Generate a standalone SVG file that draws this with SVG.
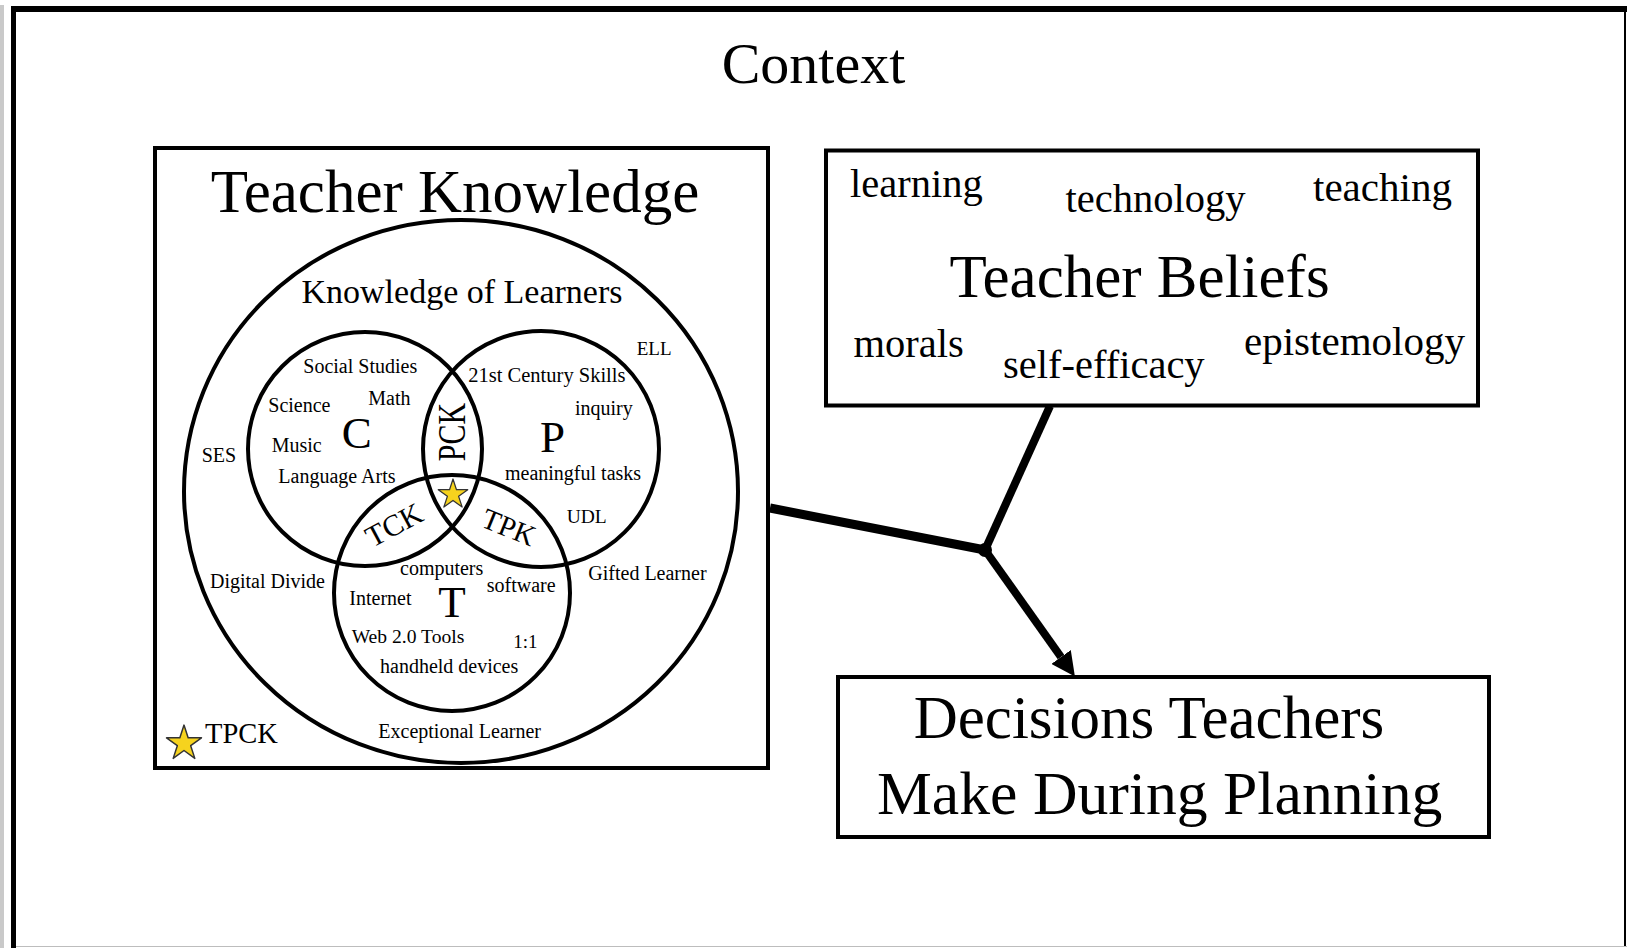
<svg xmlns="http://www.w3.org/2000/svg" xmlns:xlink="http://www.w3.org/1999/xlink" width="1627" height="948" viewBox="0 0 1627 948">
<style>
  text { font-family: "Liberation Serif", "Times New Roman", serif; fill: #000; }
  .box { fill: #fff; stroke: #000; stroke-width: 4; }
  .ring { fill: none; stroke: #000; stroke-width: 4; }
  .sm { font-size: 20px; }
  .big { font-size: 45px; }
  .bw { font-size: 40.5px; }
  .hd { font-size: 61px; }
  .conn { stroke: #000; fill: none; stroke-linecap: butt; }
  .star { fill: #f6d31e; stroke: #333; stroke-width: 1.6; stroke-linejoin: round; }
</style>
<defs>
  <path id="star" d="M0,-20 L4.49,-6.18 L19.02,-6.18 L7.26,2.36 L11.76,16.18 L0,7.64 L-11.76,16.18 L-7.26,2.36 L-19.02,-6.18 L-4.49,-6.18 Z"/>
  <marker id="arrow" markerUnits="userSpaceOnUse" markerWidth="24" markerHeight="24" refX="0" refY="12" orient="auto">
    <path d="M0,0 L24,12 L0,24 Z" fill="#000"/>
  </marker>
</defs>

<!-- page frame -->
<g id="frame">
  <rect x="0" y="0" width="1627" height="948" fill="#fff"/>
  <rect x="0" y="5" width="4" height="943" fill="#c9c9c9"/>
  <rect x="11" y="6" width="1616" height="6" fill="#000"/>
  <rect x="11" y="6" width="5" height="942" fill="#000"/>
  <line x1="1625" y1="6" x2="1625" y2="946" stroke="#000" stroke-width="2"/>
  <line x1="16" y1="946.5" x2="1627" y2="946.5" stroke="#bdbdbd" stroke-width="1"/>
</g>

<g id="title">
  <text x="813.5" y="83" text-anchor="middle" style="font-size:58px">Context</text>
</g>

<!-- connectors -->
<g id="connectors">
  <line class="conn" x1="770" y1="508" x2="985" y2="550" stroke-width="9"/>
  <line class="conn" x1="1050" y1="406" x2="985" y2="550" stroke-width="8"/>
  <line class="conn" x1="985" y1="550" x2="1061" y2="657" stroke-width="8" marker-end="url(#arrow)"/>
  <circle cx="985" cy="550" r="7" fill="#000"/>
</g>

<!-- Teacher Knowledge -->
<g id="teacher-knowledge">
  <rect class="box" x="155" y="148" width="613" height="620"/>
  <text x="455" y="211.7" text-anchor="middle" class="hd">Teacher Knowledge</text>
  <ellipse class="ring" cx="461" cy="491.5" rx="277" ry="271.5"/>
  <text x="462" y="303" text-anchor="middle" style="font-size:34px">Knowledge of Learners</text>

  <circle class="ring" cx="365" cy="449" r="117"/>
  <circle class="ring" cx="541" cy="449" r="118"/>
  <circle class="ring" cx="452" cy="593" r="118"/>

  <!-- C -->
  <text x="303.3" y="373" class="sm">Social Studies</text>
  <text x="268.3" y="411.7" class="sm">Science</text>
  <text x="368.3" y="405" class="sm">Math</text>
  <text x="356.7" y="448" text-anchor="middle" class="big">C</text>
  <text x="271.7" y="451.7" class="sm">Music</text>
  <text x="278.3" y="483.3" class="sm">Language Arts</text>

  <!-- P -->
  <text x="468.3" y="381.7" class="sm" style="font-size:20.5px">21st Century Skills</text>
  <text x="575" y="415" class="sm">inquiry</text>
  <text x="552.5" y="451.7" text-anchor="middle" class="big">P</text>
  <text x="505" y="480" class="sm">meaningful tasks</text>
  <text x="566.7" y="523.3" class="sm" style="font-size:19.5px">UDL</text>

  <!-- T -->
  <text x="400" y="575" class="sm">computers</text>
  <text x="486.7" y="591.7" class="sm">software</text>
  <text x="349.3" y="605" class="sm">Internet</text>
  <text x="452" y="616.7" text-anchor="middle" class="big">T</text>
  <text x="351.7" y="643.3" class="sm" style="font-size:19.6px">Web 2.0 Tools</text>
  <text x="513.3" y="648.3" class="sm" style="font-size:19px">1:1</text>
  <text x="380" y="673.3" class="sm">handheld devices</text>

  <!-- intersections -->
  <text transform="translate(452,432) rotate(-90) scale(0.75,1)" x="0" y="13" text-anchor="middle" style="font-size:40px">PCK</text>
  <text transform="translate(394,525) rotate(-28)" x="0" y="10" text-anchor="middle" style="font-size:30px">TCK</text>
  <text transform="translate(509,527) rotate(22)" x="0" y="10" text-anchor="middle" style="font-size:29px">TPK</text>
  <use href="#star" xlink:href="#star" class="star" transform="translate(453,494.5) scale(0.775)"/>

  <!-- learners -->
  <text x="636.7" y="355" class="sm" style="font-size:19px">ELL</text>
  <text x="201.7" y="461.7" class="sm">SES</text>
  <text x="210" y="588.3" class="sm">Digital Divide</text>
  <text x="588.3" y="580" class="sm">Gifted Learner</text>
  <text x="378.3" y="738.3" class="sm">Exceptional Learner</text>

  <!-- legend -->
  <use href="#star" xlink:href="#star" class="star" transform="translate(184,743.5) scale(0.92)"/>
  <text x="205" y="743.3" style="font-size:28.5px">TPCK</text>
</g>

<!-- Teacher Beliefs -->
<g id="teacher-beliefs">
  <rect class="box" x="826" y="150.5" width="652" height="255"/>
  <text x="850" y="196.5" class="bw">learning</text>
  <text x="1065.5" y="211.6" class="bw">technology</text>
  <text x="1313" y="201" class="bw" style="font-size:41px">teaching</text>
  <text x="949.5" y="297.4" class="hd">Teacher Beliefs</text>
  <text x="853.5" y="357" class="bw">morals</text>
  <text x="1003" y="377.7" class="bw">self-efficacy</text>
  <text x="1244" y="354.8" class="bw" style="font-size:41px">epistemology</text>
</g>

<!-- Decisions -->
<g id="decisions">
  <rect class="box" x="838" y="677" width="651" height="160"/>
  <text x="913.7" y="738" class="hd">Decisions Teachers</text>
  <text x="877" y="813.5" class="hd" style="font-size:61.7px">Make During Planning</text>
</g>
</svg>
